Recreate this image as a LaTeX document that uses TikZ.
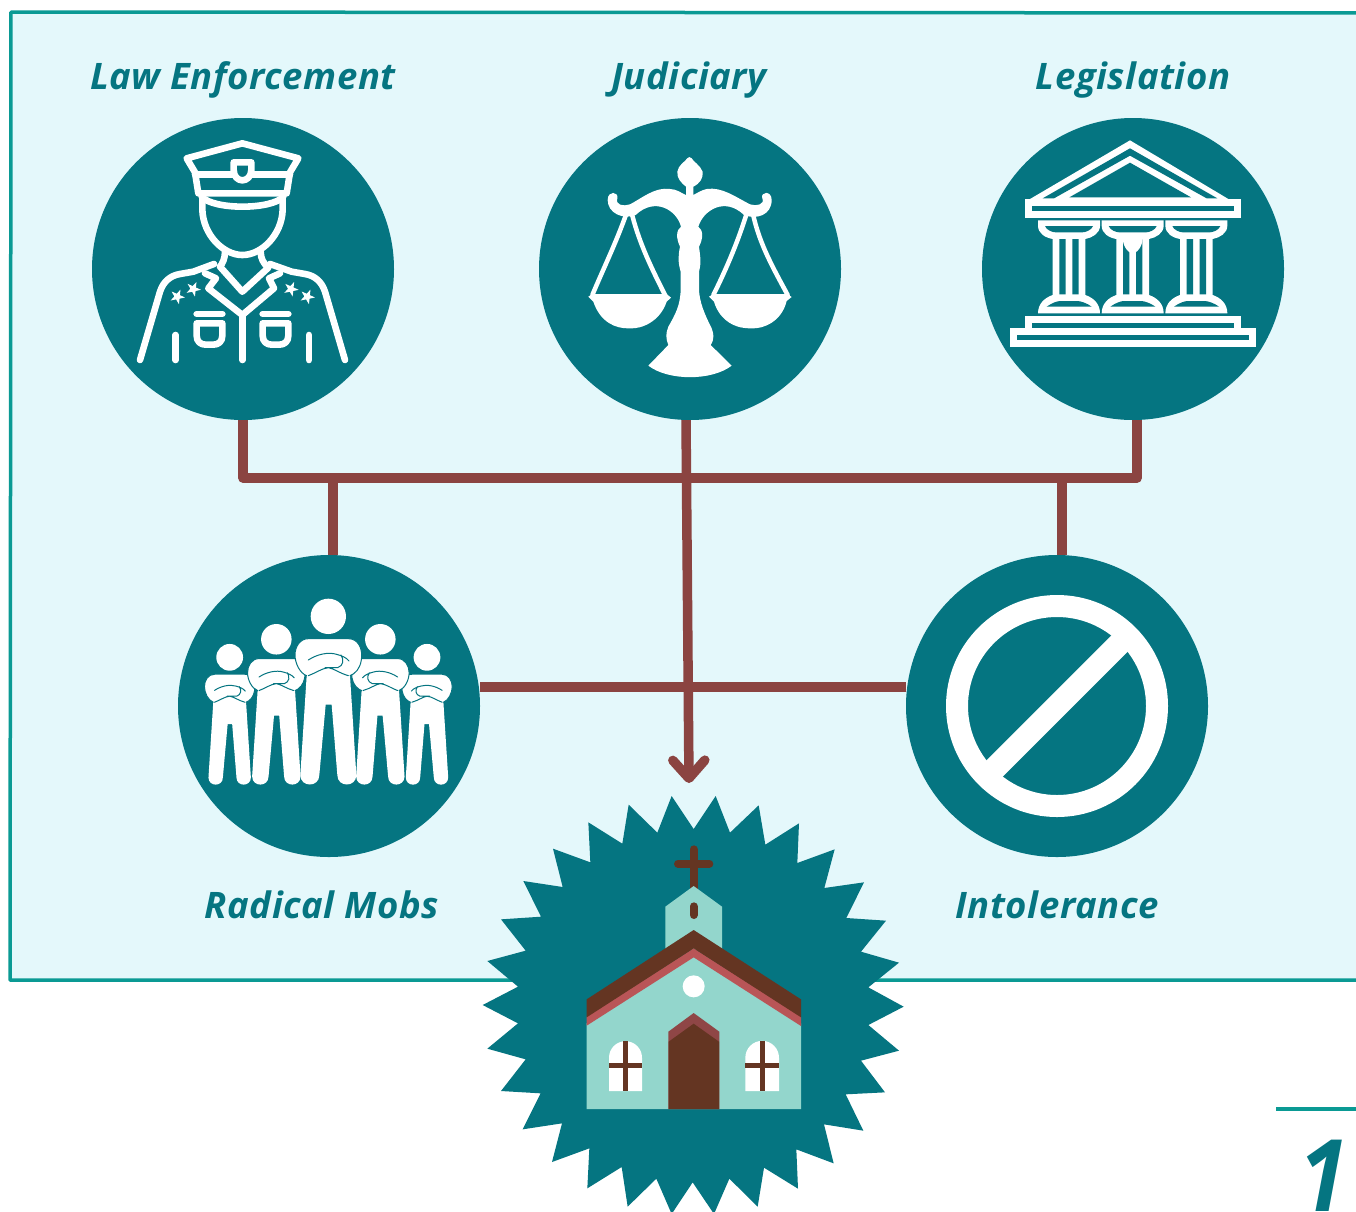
\documentclass[tikz,border=0pt]{standalone}
\usepackage{fontspec}
\setmainfont{Open Sans}
\newfontfamily\labfont[LetterSpace=1.5]{Open Sans}
\usetikzlibrary{arrows.meta}
\definecolor{tealc}{HTML}{057581}
\definecolor{panelbg}{HTML}{E4F8FB}
\definecolor{panelline}{HTML}{0A9A94}
\definecolor{linkc}{HTML}{8B4441}
\definecolor{brownc}{HTML}{643522}
\definecolor{mintc}{HTML}{93D6CC}
\definecolor{redc}{HTML}{B95557}
\definecolor{doorc}{HTML}{8F4646}
\tikzset{
  disc/.style={circle,fill=tealc,draw=none,inner sep=0pt,minimum size=302pt},
  link/.style={draw=linkc,line width=9.5pt,line cap=butt,line join=round},
  caption/.style={text=tealc,anchor=base,font=\labfont\bfseries\itshape\fontsize{36.5}{36.5}\selectfont,inner sep=0pt},
  zoomed/.style={x=0.33333pt,y=-0.33333pt},
  icon/.style={draw=white,line width=6.6pt,line cap=round,line join=round},
}
\newcommand{\starat}[2]{\fill[white,shift={(#1,#2)},rotate=12] (90:23) -- (126:9) -- (162:23) -- (198:9) -- (234:23) -- (270:9) -- (306:23) -- (342:9) -- (18:23) -- (54:9) -- cycle;}
\newcommand{\mobfig}[3]{%
\begin{scope}[shift={(#1,645)},xscale=#3*#2,yscale=#2]
 \fill[white] (0,-506) circle (53);
 \fill[white]
  (-60,-439) -- (60,-439) .. controls (90,-439) and (100,-410) .. (100,-390)
  .. controls (100,-365) and (92,-345) .. (75,-333) -- (65,-328)
  -- (84,-30) .. controls (84,8) and (27,8) .. (27,-30) -- (10,-241) -- (-8,-241) -- (-27,-30)
  .. controls (-27,8) and (-84,8) .. (-84,-30) -- (-65,-328) .. controls (-85,-335) and (-100,-365) .. (-100,-390)
  .. controls (-100,-415) and (-85,-439) .. (-60,-439) -- cycle;
 \draw[tealc,line width=1pt,line join=round,line cap=round]
  (65,-328) -- (75,-333) .. controls (92,-345) and (100,-365) .. (100,-390) .. controls (100,-410) and (90,-439) .. (60,-439) -- (-60,-439)
  .. controls (-85,-439) and (-100,-415) .. (-100,-390) .. controls (-100,-365) and (-85,-335) .. (-65,-328);
 \draw[tealc,line width=1pt,line cap=round]
  (-60,-375) .. controls (-35,-392) and (0,-400) .. (25,-392) .. controls (40,-388) and (55,-382) .. (62,-372)
  (38,-390) .. controls (48,-375) and (45,-358) .. (28,-352) -- (-10,-352)
  (-60,-328) .. controls (-40,-335) and (-20,-350) .. (0,-352) .. controls (15,-350) and (35,-335) .. (60,-328);
\end{scope}}
\begin{document}
\begin{tikzpicture}[x=1pt,y=-1pt]
\useasboundingbox (0,0) rectangle (1356,1211);
\clip (0,0) rectangle (1356,1211);
\fill[white] (0,0) rectangle (1356,1211);
% panel
\filldraw[fill=panelbg,draw=panelline,line width=3.5pt,line join=round] (11,12) -- (1370,13) -- (1370,980) -- (10,980) -- cycle;
\draw[panelline,line width=3.2pt] (1276,1109) -- (1370,1109);

% discs
\node[disc] (law) at (243,269) {};
\node[disc] (jud) at (690,269) {};
\node[disc] (leg) at (1133,269) {};
\node[disc] (mob) at (329,706) {};
\node[disc] (int) at (1057,706) {};
\coordinate (churchtip) at (689,783);
\coordinate (barL) at (243,478);
\coordinate (barR) at (1137,478);

% connectors
\path[link] (law.south) -- (barL) -- (barR) -- ([xshift=4pt]leg.south);
\path[link] (333,478) -- (mob.north -| 333,0);
\path[link] (1062,478) -- (int.north -| 1062,0);
\path[link] (mob.east |- 0,687) -- (int.west |- 0,687);
\path[link,-{Straight Barb[length=18pt,width=32pt,round,line width=9.5pt]}] ([xshift=-4pt]jud.south) -- (churchtip);

% starburst + church
\begin{scope}[shift={(480,790)},zoomed]
\fill[tealc] (575,18)--(641,117)--(707,18)--(750,128)--(836,46)--(856,164)--(957,100)--(952,219)--(1064,178)--(1033,294)--(1152,277)--(1099,384)--(1218,392)--(1143,485)--(1257,518)--(1165,592)--(1271,650)--(1165,705)--(1257,782)--(1143,812)--(1215,907)--(1097,913)--(1150,1022)--(1032,1003)--(1061,1120)--(949,1078)--(954,1196)--(852,1133)--(833,1250)--(748,1166)--(702,1272)--(638,1177)--(575,1272)--(529,1166)--(443,1250)--(425,1131)--(322,1195)--(328,1075)--(216,1116)--(246,1000)--(128,1018)--(182,910)--(63,903)--(137,808)--(22,776)--(114,700)--(8,645)--(114,590)--(22,513)--(137,482)--(63,388)--(183,380)--(130,273)--(248,291)--(219,176)--(331,217)--(325,97)--(427,161)--(446,44)--(532,128)--cycle;
\draw[brownc,line width=8pt,line cap=round] (641,178) -- (641,300) (594,221) -- (688,221);
\fill[mintc] (556,480) -- (556,350) -- (641,288) -- (726,350) -- (726,480) -- cycle;
\draw[brownc,line width=8pt,line cap=round] (641,349) -- (641,375);
\fill[mintc] (320,957) -- (320,700) -- (641,495) -- (963,700) -- (963,957) -- cycle;
\fill[redc] (320,680) -- (641,475) -- (963,680) -- (963,708) -- (641,502) -- (320,707) -- cycle;
\fill[brownc] (320,628) -- (641,420) -- (963,628) -- (963,682) -- (641,475) -- (320,682) -- cycle;
\fill[white] (641,589) circle (33);
\fill[doorc] (565,957) -- (565,725) -- (641,669) -- (718,725) -- (718,957) -- cycle;
\fill[brownc] (566,957) -- (566,755) -- (641,701) -- (717,755) -- (717,957) -- cycle;
\fill[white] (387,903) -- (387,803) arc[start angle=180,end angle=360,radius=49.5] -- (486,903) -- cycle;
\fill[white] (796,903) -- (796,803) arc[start angle=180,end angle=360,radius=50.5] -- (897,903) -- cycle;
\draw[brownc,line width=5.3pt] (436,753) -- (436,903) (387,827) -- (486,827) (847,753) -- (847,903) (796,827) -- (897,827);
\end{scope}

% police
\begin{scope}[shift={(90,115)},zoomed]
\draw[icon] (290,130) -- (457,85) -- (625,130) -- (600,172) -- (590,235) -- (325,235) -- (315,172) -- cycle;
\draw[icon] (315,178) -- (600,178);
\draw[icon] (335,245) .. controls (370,285) and (545,285) .. (580,245);
\draw[icon,fill=tealc] (431,142) -- (484,142) -- (484,165) .. controls (484,185) and (470,196) .. (457,196) .. controls (444,196) and (431,185) .. (431,165) -- cycle;
\draw[icon] (337,250) -- (337,285) .. controls (340,360) and (400,420) .. (457,420) .. controls (515,420) and (575,360) .. (578,285) -- (578,250);
\draw[icon] (405,410) .. controls (405,430) and (398,445) .. (390,455) -- (457,530) -- (535,458) .. controls (520,445) and (512,430) .. (512,410);
\draw[icon] (372,447) -- (310,470) -- (270,477) .. controls (240,482) and (220,500) .. (210,530) -- (150,735);
\draw[icon] (540,447) -- (605,470) -- (645,477) .. controls (675,482) and (695,500) .. (705,530) -- (765,735);
\draw[icon] (345,475) -- (378,490) -- (355,520) -- (457,600) -- (552,520) -- (537,490) -- (570,475);
\draw[icon] (457,600) -- (457,735);
\draw[icon] (320,597) -- (397,597) (518,597) -- (595,597);
\draw[icon] (320,625) -- (397,625) -- (397,662) .. controls (397,680) and (385,689) .. (370,689) -- (347,689) .. controls (332,689) and (320,680) .. (320,662) -- cycle;
\draw[icon] (518,625) -- (595,625) -- (595,662) .. controls (595,680) and (583,689) .. (568,689) -- (545,689) .. controls (530,689) and (518,680) .. (518,662) -- cycle;
\draw[icon] (257,660) -- (257,735) (657,660) -- (657,735);
\starat{262}{545}\starat{310}{522}\starat{603}{522}\starat{652}{545}
\end{scope}

% scales
\begin{scope}[shift={(535,115)},zoomed]
\fill[white] (340,752) .. controls (400,798) and (530,798) .. (590,752) -- (527,690) .. controls (540,670) and (535,655) .. (530,640) .. controls (510,600) and (492,560) .. (492,520) -- (492,470) .. controls (500,440) and (495,420) .. (492,395) .. controls (505,370) and (505,345) .. (490,335)
 .. controls (505,285) and (570,245) .. (627,300) .. controls (665,315) and (710,300) .. (710,255) .. controls (710,225) and (675,230) .. (682,250) .. controls (690,268) and (665,275) .. (645,268) .. controls (600,245) and (560,215) .. (515,222) .. controls (500,225) and (485,235) .. (475,240)
 -- (475,215) .. controls (495,205) and (505,190) .. (503,170) .. controls (495,150) and (475,140) .. (470,130) .. controls (465,125) and (460,125) .. (457,130) .. controls (450,140) and (430,150) .. (427,170) .. controls (425,190) and (440,205) .. (453,215) -- (453,240)
 .. controls (440,235) and (425,222) .. (405,222) .. controls (360,215) and (320,250) .. (285,268) .. controls (265,275) and (240,270) .. (247,250) .. controls (252,230) and (218,225) .. (218,255) .. controls (218,295) and (265,315) .. (302,300) .. controls (360,245) and (425,285) .. (438,335)
 .. controls (423,345) and (423,370) .. (435,395) .. controls (430,420) and (428,440) .. (437,470) -- (437,520) .. controls (437,570) and (420,600) .. (400,635) .. controls (392,655) and (392,670) .. (400,690) -- cycle;
\draw[white,line width=4.5pt,line cap=round] (272,302) .. controls (240,390) and (210,450) .. (172,540) (292,302) .. controls (315,390) and (350,460) .. (390,540);
\draw[white,line width=4.5pt,line cap=round] (633,302) .. controls (605,390) and (570,470) .. (535,540) (655,302) .. controls (675,390) and (715,460) .. (758,540);
\fill[white] (160,545) -- (172,537) -- (395,537) -- (408,548) -- (395,560) .. controls (375,620) and (320,642) .. (285,640) .. controls (240,642) and (195,620) .. (175,560) -- cycle;
\fill[white] (522,545) -- (535,537) -- (757,537) -- (770,546) -- (755,558) .. controls (740,620) and (685,642) .. (650,640) .. controls (605,642) and (555,620) .. (537,560) -- cycle;
\end{scope}

% legislation
\begin{scope}[shift={(980,115)},zoomed]
\fill[white] (145,255) -- (450,76) -- (750,255) -- cycle;
\fill[tealc] (188,250) -- (450,100) -- (712,250) -- (680,250) -- (450,122) -- (222,250) -- cycle;
\fill[tealc] (268,247) -- (450,143) -- (633,247) -- cycle;
\fill[white] (135,252) rectangle (782,308);
\fill[tealc] (155,272) rectangle (762,287);
\foreach \cx in {267,458,649}{
\begin{scope}[shift={(\cx,0)}]
 \fill[white] (-93,316) -- (93,316) -- (93,332) .. controls (93,355) and (70,368) .. (49,372) -- (49,540) .. controls (72,548) and (93,565) .. (93,595) -- (-93,595) .. controls (-93,565) and (-72,548) .. (-49,540) -- (-49,372) .. controls (-72,368) and (-93,355) .. (-93,332) -- cycle;
 \fill[tealc] (-72,333) -- (72,333) .. controls (68,345) and (50,352) .. (40,352) -- (-40,352) .. controls (-50,352) and (-68,345) .. (-72,333) -- cycle;
 \fill[tealc] (-29,372) rectangle (-10,538) (10,372) rectangle (29,538);
 \fill[tealc] (-67,575) .. controls (-50,563) and (-35,558) .. (-25,558) -- (25,558) .. controls (35,558) and (55,565) .. (68,575) -- cycle;
\end{scope}}
\fill[white] (428,368) -- (488,368) .. controls (488,395) and (470,415) .. (458,415) .. controls (446,415) and (428,395) .. (428,368) -- cycle;
\fill[white] (135,603) rectangle (782,645);
\fill[tealc] (155,623) rectangle (762,639);
\fill[white] (90,639) rectangle (827,695);
\fill[tealc] (110,659) rectangle (806,675);
\end{scope}

% mobs
\begin{scope}[shift={(175,570)},zoomed]
\mobfig{164}{0.757}{1}
\mobfig{756}{0.757}{-1}
\mobfig{304}{0.864}{1}
\mobfig{616}{0.864}{-1}
\mobfig{460}{1}{1}
\end{scope}

% prohibition
\draw[white,line width=22pt] (int) circle (100);
\draw[white,line width=23pt] (1129,634) -- (986,777);

% captions
\node[caption] (capa) at (243,89) {Law Enforcement};
\node[caption] (capb) at (689,89) {Judiciary};
\node[caption] (capc) at (1133,89) {Legislation};
\node[caption] (capd) at (322,918) {Radical Mobs};
\node[caption] (cape) at (1057,918) {Intolerance};
\node[text=tealc,anchor=base east,inner sep=0pt,xscale=0.88,transform shape,font=\bfseries\itshape\fontsize{100}{100}\selectfont] (pg) at (1348.5,1211) {1};
\end{tikzpicture}
\end{document}
